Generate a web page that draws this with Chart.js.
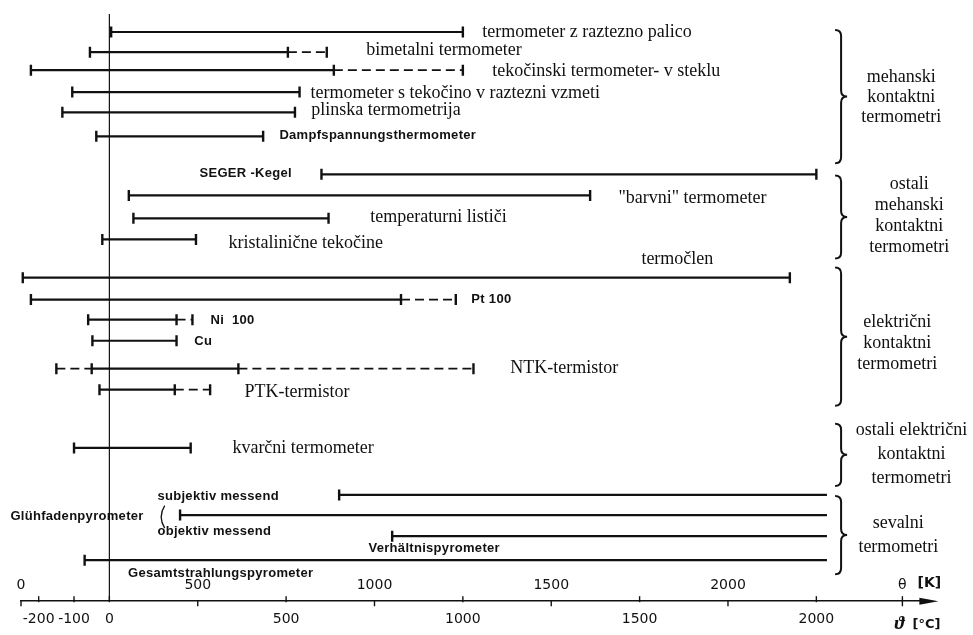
<!DOCTYPE html>
<html>
<head>
<meta charset="utf-8">
<script src="https://cdn.jsdelivr.net/npm/chart.js@4.4.1/dist/chart.umd.min.js"></script>
<style>
  html, body { margin: 0; padding: 0; background: #fff; }
  #wrap { width: 973px; height: 635px; position: relative; }
</style>
</head>
<body>
<div id="wrap"><canvas id="c"></canvas></div>
<script>
const rowNames = [
  "termometer z raztezno palico", "bimetalni termometer", "tekočinski termometer- v steklu",
  "termometer s tekočino v raztezni vzmeti", "plinska termometrija", "Dampfspannungsthermometer",
  "SEGER -Kegel", "\"barvni\" termometer", "temperaturni lističi", "kristalinične tekočine",
  "termočlen", "Pt 100", "Ni  100", "Cu", "NTK-termistor", "PTK-termistor",
  "kvarčni termometer", "subjektiv messend", "objektiv messend", "Verhältnispyrometer",
  "Gesamtstrahlungspyrometer"
];
// lane of each row (0 = top of plot, 28 = axis)
const rowLevel = [1.49, 2.43, 3.27, 4.29, 5.23, 6.35, 8.12, 9.10, 10.17, 11.15,
  12.93, 13.95, 14.89, 15.87, 17.17, 18.15, 20.86, 23.05, 23.99, 24.97, 26.09];
const solidFrom = [5, -55, -222, -105, -133, -37, 600, 55, 68, -20,
  -245, -222, -60, -48, -50, -28, -100, 650, 200, 800, -70];
const solidTo = [1000, 505, 635, 538, 525, 435, 2000, 1360, 620, 245,
  1925, 825, 190, 190, 365, 185, 230, 2030, 2030, 2030, 2030];
const dashFrom = [null, null, null, null, null, null, null, null, null, null,
  null, null, null, null, -150, null, null, null, null, null, null];
const dashTo = [null, 615, 1000, null, null, null, null, null, null, null,
  null, 980, 235, null, 1030, 285, null, null, null, null, null];
const openEnd = [17, 18, 19, 20]; // pyrometers run off to the right, no end mark

const celsiusTicks = [-200, -100, 0, 500, 1000, 1500, 2000];
const kelvinTicks = [0, 500, 1000, 1500, 2000];

const groupNames = [
  ["mehanski", "kontaktni", "termometri"],
  ["ostali", "mehanski", "kontaktni", "termometri"],
  ["električni", "kontaktni", "termometri"],
  ["ostali električni", "kontaktni", "termometri"],
  ["sevalni", "termometri"]
];

// ---- layout (where the texts and braces sit, in axis units) ----
const labelPlace = [
  [1055, 1.49, "serif"], [727, 2.33, "serif"], [1083, 3.31, "serif"], [569, 4.33, "serif"],
  [571, 5.13, "serif"], [481, 6.30, "sans"], [255, 8.07, "sans"], [1440, 9.24, "serif"],
  [738, 10.13, "serif"], [337, 11.34, "serif"], [1505, 12.09, "serif"], [1024, 13.95, "sans"],
  [286, 14.93, "sans"], [240, 15.91, "sans"], [1134, 17.13, "serif"], [382, 18.29, "serif"],
  [348, 20.86, "serif"], [136, 23.10, "sans"], [136, 24.73, "sans"], [733, 25.53, "sans"],
  [53, 26.69, "sans"]
];
const groupPlace = [ // [brace top, brace bottom, text centre x, text centre y, line gap]
  [1.40, 7.60, 2240, 4.53, 0.91],
  [8.17, 12.04, 2263, 10.03, 0.98],
  [12.46, 18.90, 2229, 16.00, 0.98],
  [19.74, 22.63, 2269, 21.16, 1.10],
  [23.10, 26.74, 2232, 24.92, 1.12]
];
const braceX = 2070;

const INK = "#111";
const SERIF = '18px "Liberation Serif", "Times New Roman", serif';
const SANS = 'bold 13px "Liberation Sans", Arial, sans-serif';
const AXISFONT = '14px "DejaVu Sans", sans-serif';

// segments joined into one dataset each, separated by gaps
const solidPts = [], dashPts = [], capPts = [];
rowNames.forEach((_, i) => {
  const y = rowLevel[i];
  solidPts.push({ x: solidFrom[i], y }, { x: solidTo[i], y }, { x: solidTo[i], y: null });
  if (dashFrom[i] !== null) {
    dashPts.push({ x: dashFrom[i], y }, { x: solidFrom[i], y }, { x: solidFrom[i], y: null });
    capPts.push({ x: dashFrom[i], y });
  }
  if (dashTo[i] !== null) {
    dashPts.push({ x: solidTo[i], y }, { x: dashTo[i], y }, { x: dashTo[i], y: null });
    capPts.push({ x: dashTo[i], y });
  }
  capPts.push({ x: solidFrom[i], y });
  if (!openEnd.includes(i)) capPts.push({ x: solidTo[i], y });
});

function brace(ctx, sx, top, bot) {
  const mid = (top + bot) / 2, h = 6;
  ctx.beginPath();
  ctx.moveTo(sx - h, top);
  ctx.quadraticCurveTo(sx, top, sx, top + h);
  ctx.lineTo(sx, mid - h);
  ctx.quadraticCurveTo(sx, mid, sx + h, mid);
  ctx.quadraticCurveTo(sx, mid, sx, mid + h);
  ctx.lineTo(sx, bot - h);
  ctx.quadraticCurveTo(sx, bot, sx - h, bot);
  ctx.stroke();
}

const annot = {
  id: "annot",
  afterDatasetsDraw(chart) {
    const { ctx, chartArea } = chart;
    const xs = chart.scales.x, ys = chart.scales.y, ks = chart.scales.k;
    const axisY = chartArea.bottom;
    ctx.save();
    ctx.fillStyle = INK;
    ctx.strokeStyle = INK;
    ctx.textBaseline = "middle";

    // row labels
    rowNames.forEach((name, i) => {
      const [lx, ly, kind] = labelPlace[i];
      ctx.font = kind === "serif" ? SERIF : SANS;
      ctx.letterSpacing = kind === "serif" ? "0px" : "0.3px";
      ctx.textAlign = "left";
      ctx.fillText(name, xs.getPixelForValue(lx), ys.getPixelForValue(ly));
    });
    // Glühfadenpyrometer with its small bracket
    ctx.font = SANS;
    ctx.letterSpacing = "0.3px";
    ctx.fillText("Glühfadenpyrometer", xs.getPixelForValue(-280), ys.getPixelForValue(24.03));
    ctx.letterSpacing = "0px";
    const bx = xs.getPixelForValue(148), bt = ys.getPixelForValue(23.55), bb = ys.getPixelForValue(24.6);
    ctx.lineWidth = 1.3;
    ctx.beginPath();
    ctx.moveTo(bx + 3, bt);
    ctx.quadraticCurveTo(bx - 4, (bt + bb) / 2, bx + 3, bb);
    ctx.stroke();

    // group braces and names
    ctx.lineWidth = 2;
    groupPlace.forEach(([t, b, cx, cy, gap], g) => {
      brace(ctx, xs.getPixelForValue(braceX), ys.getPixelForValue(t), ys.getPixelForValue(b));
      const lines = groupNames[g];
      ctx.font = SERIF;
      ctx.textAlign = "center";
      lines.forEach((txt, j) => {
        const ly = cy + (j - (lines.length - 1) / 2) * gap;
        ctx.fillText(txt, xs.getPixelForValue(cx), ys.getPixelForValue(ly));
      });
    });

    // tick marks across the axis, Kelvin labels above
    ctx.lineWidth = 1.4;
    celsiusTicks.forEach(v => {
      const px = xs.getPixelForValue(v);
      ctx.beginPath(); ctx.moveTo(px, axisY - 5); ctx.lineTo(px, axisY + 1); ctx.stroke();
    });
    ctx.font = AXISFONT;
    ctx.textAlign = "center";
    kelvinTicks.forEach(v => {
      const px = ks.getPixelForValue(v);
      ctx.beginPath(); ctx.moveTo(px, axisY - 1); ctx.lineTo(px, axisY + 5); ctx.stroke();
      ctx.fillText(String(v), px, axisY - 16);
    });

    // arrow head and unit marks
    const ax = chartArea.right;
    ctx.beginPath();
    ctx.moveTo(ax - 3, axisY - 3.5);
    ctx.lineTo(ax + 16, axisY);
    ctx.lineTo(ax - 3, axisY + 3.5);
    ctx.closePath();
    ctx.fill();
    const ux = ax - 20;
    ctx.beginPath(); ctx.moveTo(ux, axisY - 5); ctx.lineTo(ux, axisY + 5); ctx.stroke();
    ctx.font = '14px "DejaVu Sans", sans-serif';
    ctx.fillText("θ", ux, axisY - 16);
    ctx.font = 'bold 14px "DejaVu Sans", sans-serif';
    ctx.fillText("[K]", ux + 27, axisY - 18);
    ctx.font = 'italic bold 19px "Liberation Serif", serif';
    ctx.fillText("ϑ", ux - 3, axisY + 23);
    ctx.font = 'bold 13px "DejaVu Sans", sans-serif';
    ctx.fillText("[°C]", ux + 24, axisY + 23);
    ctx.restore();
  }
};

new Chart(document.getElementById("c"), {
  type: "scatter",
  data: {
    datasets: [
      { data: solidPts, showLine: true, borderColor: INK, borderWidth: 2.2, pointRadius: 0, spanGaps: false },
      { data: dashPts, showLine: true, borderColor: INK, borderWidth: 1.8, borderDash: [9, 5], pointRadius: 0, spanGaps: false },
      { data: capPts, showLine: false, pointStyle: "line", rotation: 90, pointRadius: 5.5,
        borderColor: INK, borderWidth: 2.4 },
      { data: [{ x: 0, y: 0.65 }, { x: 0, y: 28 }], showLine: true, borderColor: INK, borderWidth: 1.2, pointRadius: 0 }
    ]
  },
  options: {
    responsive: true,
    maintainAspectRatio: false,
    animation: false,
    events: [],
    layout: { autoPadding: false, padding: { left: 21, right: 50.6, top: 0, bottom: 1 } },
    plugins: { legend: { display: false }, tooltip: { enabled: false } },
    scales: {
      x: {
        type: "linear",
        min: -250,
        max: 2300,
        position: "bottom",
        afterBuildTicks: (axis) => { axis.ticks = celsiusTicks.map(v => ({ value: v })); },
        grid: { drawOnChartArea: false, drawTicks: true, tickLength: 4, tickColor: "transparent" },
        border: { display: true, color: INK, width: 1.6 },
        ticks: {
          autoSkip: false, maxRotation: 0, padding: 6, color: INK,
          font: { family: "DejaVu Sans", size: 14 },
          callback: (v) => String(v)
        }
      },
      k: { type: "linear", axis: "x", min: 0, max: 2550, display: false },
      y: { type: "linear", min: 0, max: 28, reverse: true, display: false }
    }
  },
  plugins: [annot]
});
</script>
</body>
</html>
